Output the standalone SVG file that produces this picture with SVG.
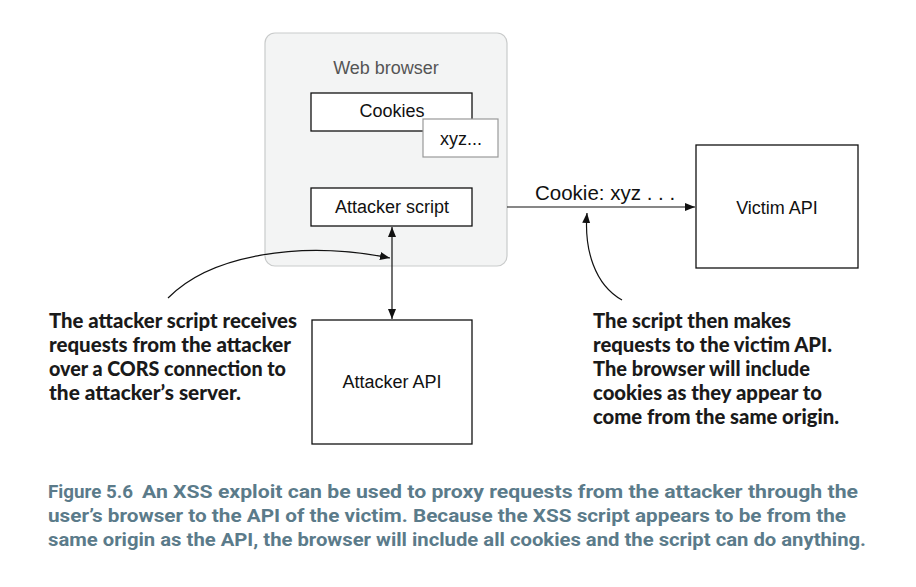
<svg xmlns="http://www.w3.org/2000/svg" width="916" height="587" viewBox="0 0 916 587">
<defs>
<style>
.box{fill:#fff;stroke:#111;stroke-width:1.3}
.lbl{font-family:"Liberation Sans",Arial,sans-serif;font-size:18px;fill:#111;text-anchor:middle}
.note{font-family:Lato,"Open Sans",sans-serif;font-weight:900;font-size:20px;fill:#1a1a1a}
.cap{font-family:Roboto,"Liberation Sans",sans-serif;font-weight:bold;font-size:18.5px;fill:#5b7b8a}
.line{fill:none;stroke:#111;stroke-width:1.2}
</style>
<marker id="ah" viewBox="0 0 10 10" refX="10" refY="5" markerWidth="10" markerHeight="10" markerUnits="userSpaceOnUse" orient="auto-start-reverse">
<path d="M0,1 L10,5 L0,9 z" fill="#111"/>
</marker>
</defs>
<rect width="916" height="587" fill="#fff"/>
<g id="browser">
<rect x="265" y="33" width="242" height="233" rx="10" ry="10" fill="#f3f4f4" stroke="#c9cbcb" stroke-width="1.2"/>
<text x="386" y="74" class="lbl" style="fill:#555">Web browser</text>
</g>
<g id="cookies">
<rect class="box" x="311" y="93" width="161" height="38"/>
<text x="392" y="117" class="lbl">Cookies</text>
</g>
<g id="xyz">
<rect x="423" y="119" width="75" height="38" fill="#fff" stroke="#999" stroke-width="1.2"/>
<text x="461" y="145" class="lbl">xyz...</text>
</g>
<g id="attacker-script">
<rect class="box" x="311" y="188" width="161" height="38"/>
<text x="392" y="213" class="lbl">Attacker script</text>
</g>
<g id="attacker-api">
<rect class="box" x="312" y="320" width="160" height="124"/>
<text x="392" y="388" class="lbl">Attacker API</text>
</g>
<g id="victim-api">
<rect class="box" x="696" y="145" width="162" height="123"/>
<text x="777" y="214" class="lbl">Victim API</text>
</g>
<g id="connectors">
<line class="line" x1="392" y1="227" x2="392" y2="319" marker-start="url(#ah)" marker-end="url(#ah)"/>
<line class="line" x1="507" y1="207" x2="695" y2="207" marker-end="url(#ah)"/>
<text x="535" y="200" font-family="Liberation Sans,Arial,sans-serif" font-size="20.5" fill="#111">Cookie: xyz . . .</text>
<path class="line" d="M168,298 C210,255 300,240 390,258" marker-end="url(#ah)"/>
<path class="line" d="M622,300 C595,285 584,250 587,213" marker-end="url(#ah)"/>
</g>
<g id="note-left">
<text class="note" x="49" y="328" textLength="248" lengthAdjust="spacingAndGlyphs">The attacker script receives</text>
<text class="note" x="49" y="352" textLength="242" lengthAdjust="spacingAndGlyphs">requests from the attacker</text>
<text class="note" x="49" y="376" textLength="237" lengthAdjust="spacingAndGlyphs">over a CORS connection to</text>
<text class="note" x="49" y="400" textLength="192" lengthAdjust="spacingAndGlyphs">the attacker’s server.</text>
</g>
<g id="note-right">
<text class="note" x="593" y="328" textLength="198" lengthAdjust="spacingAndGlyphs">The script then makes</text>
<text class="note" x="593" y="352" textLength="239" lengthAdjust="spacingAndGlyphs">requests to the victim API.</text>
<text class="note" x="593" y="376" textLength="217" lengthAdjust="spacingAndGlyphs">The browser will include</text>
<text class="note" x="593" y="400" textLength="229" lengthAdjust="spacingAndGlyphs">cookies as they appear to</text>
<text class="note" x="593" y="424" textLength="246" lengthAdjust="spacingAndGlyphs">come from the same origin.</text>
</g>
<g id="caption">
<text class="cap" x="48" y="498" textLength="85" lengthAdjust="spacingAndGlyphs">Figure 5.6</text>
<text class="cap" x="142" y="498" textLength="716" lengthAdjust="spacingAndGlyphs">An XSS exploit can be used to proxy requests from the attacker through the</text>
<text class="cap" x="48" y="522" textLength="798" lengthAdjust="spacingAndGlyphs">user’s browser to the API of the victim. Because the XSS script appears to be from the</text>
<text class="cap" x="48" y="546" textLength="818" lengthAdjust="spacingAndGlyphs">same origin as the API, the browser will include all cookies and the script can do anything.</text>
</g>
</svg>
